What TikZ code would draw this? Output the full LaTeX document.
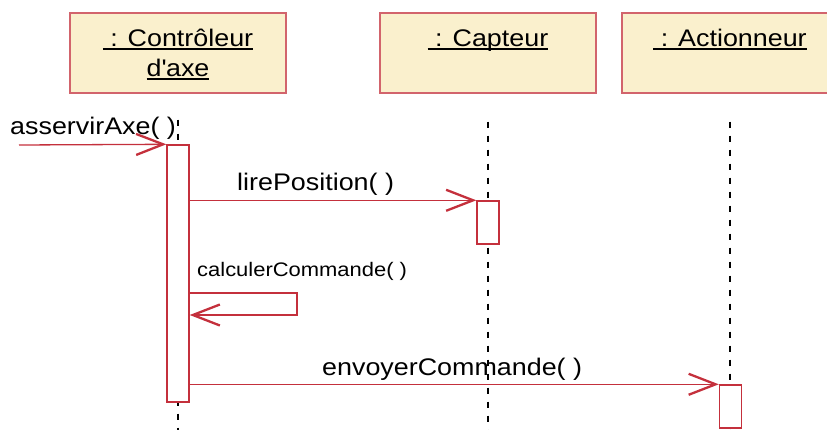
\documentclass[tikz,border=0pt]{standalone}
\usepackage{fontspec}
\setmainfont[FakeStretch=1.12]{Liberation Sans}
\usetikzlibrary{positioning,arrows.meta,calc}
\definecolor{crouge}{HTML}{C4303C}
\definecolor{cbord}{HTML}{D2646C}
\definecolor{cfond}{HTML}{FAF0CD}
\newcommand{\souligne}[1]{\setbox0\hbox{#1}\rlap{\rule[-3.5pt]{\wd0}{1.8pt}}\box0}

\begin{document}
\begin{tikzpicture}[x=1pt,y=-1pt,
    objet/.style={draw=cbord, fill=cfond, line width=1.3pt, minimum width=216pt, minimum height=80pt, inner sep=0pt},
    titre/.style={font=\fontsize{24}{30}\selectfont, align=center, inner sep=0pt, anchor=base},
    activ/.style={draw=crouge, fill=white, line width=1.4pt, minimum width=22pt, inner sep=0pt},
    vie/.style={draw=black, line width=2.3pt, dash pattern=on 6pt off 8pt},
    msg/.style={draw=crouge, line width=1.3pt, -{Straight Barb[length=27pt,width=21pt,line width=2.3pt]}},
    lbl/.style={font=\fontsize{24}{27}\selectfont, inner sep=0pt, anchor=base west},
    petit/.style={font=\fontsize{19.6}{22}\selectfont, inner sep=0pt, anchor=base west}]
  \useasboundingbox (0,0) rectangle (827,430);
  \clip (0,0) rectangle (827,430);
  % objets
  \node[objet] (ctrl) at (178,53) {};
  \node[objet] (capt) at (488,53) {};
  \node[objet] (act) at (730,53) {};
  \node[titre] (tctrl) at ($(ctrl.north)+(0,64)$) {\souligne{\ : Contrôleur}\\\souligne{d\textquotesingle axe}};
  \node[titre] (tcapt) at ($(capt.north)+(0,34)$) {\souligne{\ : Capteur}};
  \node[titre] (tact) at ($(act.north)+(0,34)$) {\souligne{\ : Actionneur}};
  % lignes de vie
  \draw[vie] ($(ctrl.south)+(0,26)$) -- (ctrl.south |- 0,432);
  \draw[vie] ($(capt.south)+(0,28)$) -- (capt.south |- 0,432);
  \draw[vie] ($(act.south)+(0,28)$) -- (act.south |- 0,432);
  % activations
  \node[activ, minimum height=257pt] (actCtrl) at (178,273.5) {};
  \node[activ, minimum height=43pt] (actCapt) at (488,222.5) {};
  \node[activ, minimum height=43pt] (actAct) at (730.5,406.5) {};
  % messages
  \coordinate (entree) at (19,145);
  \draw[msg] (entree) -- (actCtrl.north west);
  \node[lbl] (masserv) at (10,135) {asservirAxe( )};
  \draw[msg] (actCtrl.east |- actCapt.north) -- (actCapt.north west);
  \node[lbl] (mlire) at (237,191) {lirePosition( )};
  \coordinate (boucle) at (297,293);
  \draw[msg] (actCtrl.east |- boucle) -- (boucle) -- ++(0,22) -- (actCtrl.east |- 0,315);
  \node[petit] (mcalc) at (197,277) {calculerCommande( )};
  \draw[msg] (actCtrl.east |- actAct.north) -- (actAct.north west);
  \node[lbl] (menvoi) at (322,375) {envoyerCommande( )};
\end{tikzpicture}
\end{document}
